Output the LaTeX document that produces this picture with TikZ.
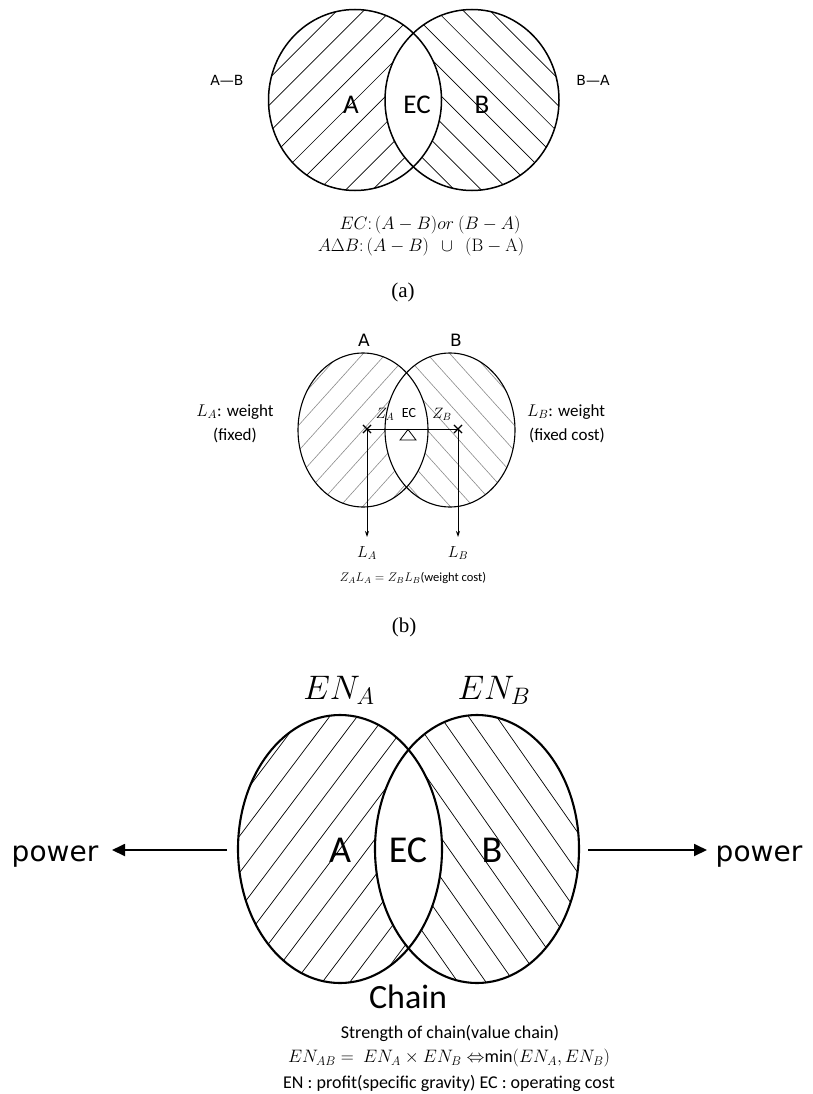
\RequirePackage{fix-cm}
\documentclass[tikz,border=0pt]{standalone}
\usepackage[no-math]{fontspec}
\setmainfont{Carlito}
\newfontfamily\dejavu{DejaVu Sans}
\newfontfamily\serif{Liberation Serif}
\usetikzlibrary{arrows.meta,shapes.misc}
\newcommand{\myhatch}[5]{%
  \foreach \k in {-22,...,22}{%
    \draw[#5] ({#1+\k*#4*sin(#3)-320*cos(#3)},{#2+\k*#4*cos(#3)+320*sin(#3)}) --
              ({#1+\k*#4*sin(#3)+320*cos(#3)},{#2+\k*#4*cos(#3)-320*sin(#3)});
  }}
\newcommand{\fs}[1]{\fontsize{#1}{#1}\selectfont}
\begin{document}
\begin{tikzpicture}[x=1pt,y=-1pt,
  hatchdark/.style={line width=0.7pt,black},
  hatchgray/.style={line width=0.6pt,black!45},
  outline/.style={draw=black,line width=1.5pt},
  outlineb/.style={draw=black,line width=1.1pt},
  outlinec/.style={draw=black,line width=2.1pt},
  lbl/.style={inner sep=0pt,anchor=center},
  power/.style={-{Triangle[length=13pt,width=12pt]},line width=1.8pt},
  weightarrow/.style={-{Stealth[length=6pt,width=4pt]},line width=0.9pt},
  xmark/.style={cross out,draw,line width=1.1pt,minimum size=7pt,inner sep=0pt}
]
\useasboundingbox (0,0) rectangle (813,1094);
\fill[white] (0,0) rectangle (813,1094);

% ---------------- (a) ----------------
\def\aAx{355}\def\aBx{472}\def\ay{100}
\begin{scope}
  \clip (\aAx,\ay) ellipse [x radius=86.5pt,y radius=90.5pt];
  \myhatch{\aAx}{\ay}{45}{19}{hatchdark}
\end{scope}
\begin{scope}
  \clip (\aBx,\ay) ellipse [x radius=87pt,y radius=90.5pt];
  \myhatch{\aBx}{\ay}{-45}{19}{hatchdark}
\end{scope}
\begin{scope}
  \clip (\aAx,\ay) ellipse [x radius=86.5pt,y radius=90.5pt];
  \fill[white] (\aBx,\ay) ellipse [x radius=87pt,y radius=90.5pt];
\end{scope}
\draw[outline] (\aAx,\ay) ellipse [x radius=86.5pt,y radius=90.5pt];
\draw[outline] (\aBx,\ay) ellipse [x radius=87pt,y radius=90.5pt];
\node[lbl,font=\dejavu\fs{14}] (amb) at (227,80) {A—B};
\node[lbl,font=\dejavu\fs{14}] (bma) at (593,80) {B—A};
\node[lbl,font=\fs{27}] (aA) at (351,105) {A};
\node[lbl,font=\fs{27}] (aEC) at (417,105) {EC};
\node[lbl,font=\fs{27}] (aB) at (482,105) {B};
\node[lbl,font=\fs{18}] (aeq1) at (430,225) {$EC\colon (A-B)or\ (B-A)$};
\node[lbl,font=\fs{18}] (aeq2) at (421,247) {$A\Delta B\colon (A-B)\ \ \cup\ \ (\mathrm{B}-\mathrm{A})$};
\node[lbl,font=\serif\fs{21}] (acap) at (403,292) {(a)};

% ---------------- (b) ----------------
\def\bAx{363}\def\bBx{450}\def\by{430}
\begin{scope}
  \clip (\bAx,\by) ellipse [x radius=65pt,y radius=77pt];
  \myhatch{\bAx}{\by}{48}{17}{hatchgray}
\end{scope}
\begin{scope}
  \clip (\bBx,\by) ellipse [x radius=65pt,y radius=77pt];
  \myhatch{\bBx}{\by}{-48}{17}{hatchgray}
\end{scope}
\begin{scope}
  \clip (\bAx,\by) ellipse [x radius=65pt,y radius=77pt];
  \fill[white] (\bBx,\by) ellipse [x radius=65pt,y radius=77pt];
\end{scope}
\draw[outlineb] (\bAx,\by) ellipse [x radius=65pt,y radius=77pt];
\draw[outlineb] (\bBx,\by) ellipse [x radius=65pt,y radius=77pt];
\node[lbl,font=\dejavu\fs{17}] (bA) at (364,340) {A};
\node[lbl,font=\dejavu\fs{17}] (bB) at (456,340) {B};
\node[lbl,font=\fs{17}] (bla) at (235,412) {$L_A$: weight};
\node[lbl,font=\fs{17}] (blb) at (566,412) {$L_B$: weight};
\node[lbl,font=\fs{17}] (bfa) at (235,435) {(fixed)};
\node[lbl,font=\fs{17}] (bfb) at (567,435) {(fixed cost)};
\coordinate (xa) at (367,429);
\coordinate (xb) at (458,429);
\coordinate (ea) at (367,537);
\coordinate (eb) at (458,537);
\draw[line width=0.9pt] (xa) -- (xb);
\draw[weightarrow] (xa) -- (ea);
\draw[weightarrow] (xb) -- (eb);
\node[xmark] (cxa) at (xa) {};
\node[xmark] (cxb) at (xb) {};
\draw[line width=0.8pt] (408,429.5) -- (400,440) -- (416,440) -- cycle;
\node[lbl,font=\fs{15}] (bza) at (385,414) {$Z_A$};
\node[lbl,font=\fs{14}] (bec) at (409,413) {EC};
\node[lbl,font=\fs{15}] (bzb) at (442,414) {$Z_B$};
\node[lbl,font=\fs{16}] (bLA) at (367,553) {$L_A$};
\node[lbl,font=\fs{16}] (bLB) at (458,553) {$L_B$};
\node[lbl,font=\fs{12.5}] (beq) at (413,578) {$Z_AL_A=Z_BL_B$(weight cost)};
\node[lbl,font=\serif\fs{21}] (bcap) at (404,627) {(b)};

% ---------------- (c) ----------------
\def\cAx{340}\def\cBx{477}\def\cy{849}
\begin{scope}
  \clip (\cAx,\cy) ellipse [x radius=102pt,y radius=134pt];
  \myhatch{\cAx}{\cy}{53}{22}{hatchdark}
\end{scope}
\begin{scope}
  \clip (\cBx,\cy) ellipse [x radius=102pt,y radius=134pt];
  \myhatch{\cBx}{\cy}{-55}{23}{hatchdark}
\end{scope}
\begin{scope}
  \clip (\cAx,\cy) ellipse [x radius=102pt,y radius=134pt];
  \fill[white] (\cBx,\cy) ellipse [x radius=102pt,y radius=134pt];
\end{scope}
\draw[outlinec] (\cAx,\cy) ellipse [x radius=102pt,y radius=134pt];
\draw[outlinec] (\cBx,\cy) ellipse [x radius=102pt,y radius=134pt];
\node[lbl,font=\fs{34}] (cena) at (339,690) {$EN_A$};
\node[lbl,font=\fs{34}] (cenb) at (494,690) {$EN_B$};
\node[lbl,font=\fs{38}] (cA) at (340,850) {A};
\node[lbl,font=\fs{38}] (cEC) at (408,850) {EC};
\node[lbl,font=\fs{38}] (cB) at (492,850) {B};
\coordinate (pl0) at (227,850);
\coordinate (pl1) at (112,850);
\coordinate (pr0) at (588,850);
\coordinate (pr1) at (707,850);
\node[inner sep=0pt,anchor=base,font=\dejavu\fs{28}] (pl) at (55,861) {power};
\node[inner sep=0pt,anchor=base,font=\dejavu\fs{28}] (pr) at (759,861) {power};
\draw[power] (pl0) -- (pl1);
\draw[power] (pr0) -- (pr1);
\node[lbl,font=\fs{34}] (chain) at (408,997) {Chain};
\node[lbl,font=\fs{18}] (cs1) at (450,1033) {Strength of chain(value chain)};
\node[lbl,font=\fs{18}] (cs2) at (449,1058) {$EN_{AB}=\ EN_A\times EN_B\Leftrightarrow$min$(EN_A,EN_B)$};
\node[lbl,font=\fs{18}] (cs3) at (449,1083) {EN : profit(specific gravity)\ EC : operating cost};
\end{tikzpicture}
\end{document}
